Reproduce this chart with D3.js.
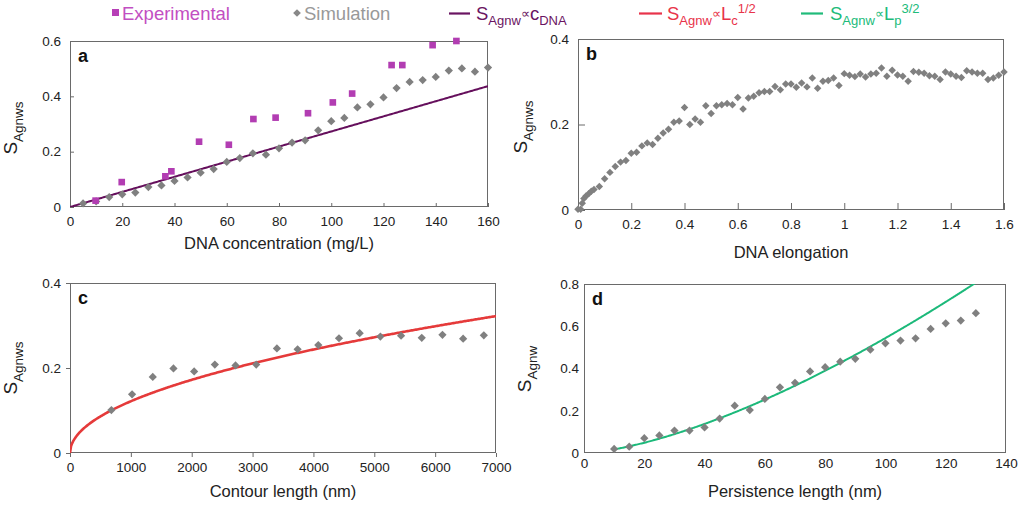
<!DOCTYPE html>
<html>
<head>
<meta charset="utf-8">
<script src="https://cdn.jsdelivr.net/npm/d3@7"></script>
<style>
  body { margin: 0; background: #fff; }
  svg { display: block; }
  text { font-family: "Liberation Sans", Arial, sans-serif; }
</style>
</head>
<body>
<svg id="chart" width="1022" height="508"></svg>
<script>
// ---- Panel a: silver nanowire number vs DNA concentration ----
const expConc = [9.8, 19.8, 36.5, 38.8, 49.4, 60.8, 70.2, 78.7, 91.1, 100.6, 108, 123.1, 127.2, 138.8, 147.9];
const expS    = [0.023, 0.090, 0.111, 0.129, 0.236, 0.225, 0.318, 0.323, 0.339, 0.378, 0.410, 0.513, 0.513, 0.585, 0.600];
const simConc = [5, 10, 15, 20, 25, 30, 35, 40, 45, 50, 55, 60, 65, 70, 75, 80, 85, 90, 95, 100,
                 105, 110, 115, 120, 125, 130, 135, 140, 145, 150, 155, 160];
const simConcS = [0.013, 0.020, 0.036, 0.046, 0.052, 0.072, 0.078, 0.094, 0.107, 0.124, 0.137, 0.163,
                  0.177, 0.194, 0.189, 0.212, 0.233, 0.241, 0.277, 0.310, 0.322, 0.360, 0.371, 0.396,
                  0.430, 0.452, 0.459, 0.470, 0.493, 0.501, 0.489, 0.504];
const fitConcCoef = 0.00273;          // S = k * c_DNA

// ---- Panel b: vs DNA elongation ----
const elong = [0, 0.01, 0.016, 0.022, 0.03, 0.04, 0.05, 0.06, 0.08, 0.10, 0.12, 0.14, 0.16, 0.18, 0.20,
               0.22, 0.24, 0.26, 0.28, 0.30, 0.32, 0.34, 0.36, 0.38, 0.40, 0.42, 0.44, 0.46, 0.48, 0.50,
               0.52, 0.54, 0.56, 0.58, 0.60, 0.62, 0.64, 0.66, 0.68, 0.70, 0.72, 0.74, 0.76, 0.78, 0.80,
               0.82, 0.84, 0.86, 0.88, 0.90, 0.92, 0.94, 0.96, 0.98, 1.00, 1.02, 1.04, 1.06, 1.08, 1.10,
               1.12, 1.14, 1.16, 1.18, 1.20, 1.22, 1.24, 1.26, 1.28, 1.30, 1.32, 1.34, 1.36, 1.38, 1.40,
               1.42, 1.44, 1.46, 1.48, 1.50, 1.52, 1.54, 1.56, 1.58, 1.60];
const elongS = [0.002, 0.002, 0.016, 0.027, 0.033, 0.038, 0.044, 0.048, 0.055, 0.073, 0.088, 0.102, 0.112, 0.116, 0.133,
                0.135, 0.150, 0.157, 0.153, 0.168, 0.180, 0.189, 0.205, 0.208, 0.240, 0.200, 0.213, 0.205, 0.244, 0.226,
                0.244, 0.246, 0.249, 0.246, 0.263, 0.236, 0.262, 0.266, 0.274, 0.277, 0.277, 0.289, 0.281, 0.295, 0.295,
                0.287, 0.297, 0.288, 0.309, 0.285, 0.301, 0.303, 0.309, 0.291, 0.319, 0.315, 0.312, 0.318, 0.311, 0.318,
                0.320, 0.332, 0.313, 0.327, 0.316, 0.313, 0.301, 0.324, 0.322, 0.320, 0.314, 0.313, 0.305, 0.323, 0.318,
                0.313, 0.310, 0.326, 0.323, 0.320, 0.320, 0.305, 0.309, 0.315, 0.323];

// ---- Panel c: vs contour length ----
const contour = [680, 1020, 1360, 1700, 2040, 2380, 2720, 3060, 3400, 3740, 4080, 4420, 4760,
                 5100, 5440, 5780, 6120, 6460, 6800];
const contourS = [0.101, 0.138, 0.179, 0.199, 0.192, 0.208, 0.206, 0.208, 0.246, 0.244, 0.254, 0.270, 0.282,
                  0.274, 0.276, 0.271, 0.278, 0.269, 0.277];
const fitContourCoef = 0.00385;       // S = k * Lc^(1/2)

// ---- Panel d: vs persistence length ----
const persist = [10, 15, 20, 25, 30, 35, 40, 45, 50, 55, 60, 65, 70, 75, 80, 85, 90, 95, 100,
                 105, 110, 115, 120, 125, 130];
const persistS = [0.019, 0.030, 0.070, 0.083, 0.106, 0.106, 0.121, 0.163, 0.224, 0.203, 0.256, 0.311, 0.332,
                  0.386, 0.406, 0.432, 0.446, 0.489, 0.519, 0.532, 0.543, 0.587, 0.614, 0.627, 0.662];
const fitPersistCoef = 0.000544;      // S = k * Lp^(3/2)

// tick values
const ticksA_x = [0, 20, 40, 60, 80, 100, 120, 140, 160];
const ticksA_y = [0, 0.2, 0.4, 0.6];
const ticksB_x = [0, 0.2, 0.4, 0.6, 0.8, 1, 1.2, 1.4, 1.6];
const ticksB_y = [0, 0.2, 0.4];
const ticksC_x = [0, 1000, 2000, 3000, 4000, 5000, 6000, 7000];
const ticksC_y = [0, 0.2, 0.4];
const ticksD_x = [0, 20, 40, 60, 80, 100, 120, 140];
const ticksD_y = [0, 0.2, 0.4, 0.6, 0.8];

const COL = {
  exp: "#b23db2",
  sim: "#808080",
  lineA: "#650f5c",
  lineC: "#e53a3a",
  lineD: "#1cb97a",
  frame: "#6a6a6a",
  text: "#222"
};

const svg = d3.select("#chart");
const fmt = d3.format("~g");
const diamond = d3.symbol().type(d3.symbolSquare);

function drawPanel(cfg, idx) {
  const x = d3.scaleLinear().domain(cfg.xDomain).range([cfg.left, cfg.right]);
  const y = d3.scaleLinear().domain(cfg.yDomain).range([cfg.bottom, cfg.top]);
  const g = svg.append("g");

  const clipId = "clip" + idx;
  g.append("clipPath").attr("id", clipId).append("rect")
    .attr("x", cfg.left).attr("y", cfg.top)
    .attr("width", cfg.right - cfg.left).attr("height", cfg.bottom - cfg.top);

  // axes with tick labels
  const xAxis = d3.axisBottom(x).tickValues(cfg.xTicks).tickFormat(fmt)
    .tickSizeInner(cfg.tickIn ? -cfg.tickLen : cfg.tickLen).tickSizeOuter(0).tickPadding(cfg.tickIn ? 9 : 5);
  const yAxis = d3.axisLeft(y).tickValues(cfg.yTicks).tickFormat(fmt)
    .tickSizeInner(cfg.tickIn ? -cfg.tickLen : cfg.tickLen).tickSizeOuter(0).tickPadding(cfg.tickIn ? 9 : 5);

  const gx = g.append("g").attr("transform", `translate(0,${cfg.bottom})`).call(xAxis);
  const gy = g.append("g").attr("transform", `translate(${cfg.left},0)`).call(yAxis);
  [gx, gy].forEach(a => {
    a.select(".domain").remove();
    a.selectAll("line").attr("stroke", COL.frame);
    a.selectAll("text").attr("fill", COL.text).style("font-size", "13.5px")
      .style("font-family", '"Liberation Sans", Arial, sans-serif');
  });
  if (cfg.tickLen === 0) { gx.selectAll("line").remove(); gy.selectAll("line").remove(); }

  // frame
  g.append("rect")
    .attr("x", cfg.left + 0.5).attr("y", cfg.top + 0.5)
    .attr("width", cfg.right - cfg.left - 1).attr("height", cfg.bottom - cfg.top - 1)
    .attr("fill", "none").attr("stroke", COL.frame).attr("stroke-width", 1);

  const plot = g.append("g");

  // fitted power law (clipped to the plot box)
  if (cfg.fit) {
    const xs = d3.range(0, 401).map(i => cfg.fit.from + (cfg.fit.to - cfg.fit.from) * i / 400);
    const line = d3.line().x(d => x(d)).y(d => y(cfg.fit.k * Math.pow(d, cfg.fit.p)));
    plot.append("path").datum(xs).attr("d", line)
      .attr("clip-path", `url(#${clipId})`)
      .attr("fill", "none").attr("stroke", cfg.fit.color).attr("stroke-width", cfg.fit.width);
  }

  // simulation diamonds
  plot.selectAll(".sim").data(d3.range(cfg.sx.length)).enter().append("path")
    .attr("d", diamond.size(cfg.dSize)())
    .attr("transform", i => `translate(${x(cfg.sx[i])},${y(cfg.sy[i])}) rotate(45)`)
    .attr("fill", COL.sim);

  // experimental squares
  if (cfg.ex) {
    plot.selectAll(".exp").data(d3.range(cfg.ex.length)).enter().append("path")
      .attr("d", d3.symbol().type(d3.symbolSquare).size(44)())
      .attr("transform", i => `translate(${x(cfg.ex[i])},${y(cfg.ey[i])})`)
      .attr("fill", COL.exp);
  }

  // panel letter
  g.append("text").attr("x", cfg.left + 8).attr("y", cfg.top + 21)
    .attr("font-weight", "bold").attr("font-size", 18).attr("fill", "#111").text(cfg.letter);

  // x label
  g.append("text").attr("x", (cfg.left + cfg.right) / 2).attr("y", cfg.xLabelY)
    .attr("text-anchor", "middle").attr("font-size", 16.5).attr("fill", COL.text).text(cfg.xLabel);

  // y label  S with subscript
  const yl = g.append("text")
    .attr("transform", `translate(${cfg.yLabelX},${cfg.yLabelCY}) rotate(-90)`)
    .attr("text-anchor", "middle").attr("font-size", 19).attr("fill", COL.text);
  yl.append("tspan").text("S");
  yl.append("tspan").attr("font-size", 13.5).attr("dy", 6).text(cfg.ySub);
}

drawPanel({
  letter: "a", left: 70, right: 488, top: 41, bottom: 207,
  xDomain: [0, 160], yDomain: [0, 0.6], xTicks: ticksA_x, yTicks: ticksA_y,
  tickIn: true, tickLen: 4,
  sx: simConc, sy: simConcS, ex: expConc, ey: expS, dSize: 34,
  fit: { from: 0, to: 160, k: fitConcCoef, p: 1, color: COL.lineA, width: 2 },
  xLabel: "DNA concentration (mg/L)", xLabelY: 249, yLabelX: 17, yLabelCY: 128, ySub: "Agnws"
}, 0);

drawPanel({
  letter: "b", left: 578, right: 1004, top: 39, bottom: 210,
  xDomain: [0, 1.6], yDomain: [0, 0.4], xTicks: ticksB_x, yTicks: ticksB_y,
  tickIn: true, tickLen: 7,
  sx: elong, sy: elongS, dSize: 28,
  xLabel: "DNA elongation", xLabelY: 258, yLabelX: 527, yLabelCY: 127, ySub: "Agnws"
}, 1);

drawPanel({
  letter: "c", left: 70, right: 496, top: 283, bottom: 453,
  xDomain: [0, 7000], yDomain: [0, 0.4], xTicks: ticksC_x, yTicks: ticksC_y,
  tickIn: false, tickLen: 4,
  sx: contour, sy: contourS, dSize: 34,
  fit: { from: 0, to: 7000, k: fitContourCoef, p: 0.5, color: COL.lineC, width: 2.6 },
  xLabel: "Contour length (nm)", xLabelY: 497, yLabelX: 17, yLabelCY: 368, ySub: "Agnws"
}, 2);

drawPanel({
  letter: "d", left: 584, right: 1006, top: 284, bottom: 453,
  xDomain: [0, 140], yDomain: [0, 0.8], xTicks: ticksD_x, yTicks: ticksD_y,
  tickIn: false, tickLen: 0,
  sx: persist, sy: persistS, dSize: 34,
  fit: { from: 10, to: 140, k: fitPersistCoef, p: 1.5, color: COL.lineD, width: 2 },
  xLabel: "Persistence length (nm)", xLabelY: 497, yLabelX: 531, yLabelCY: 369, ySub: "Agnw"
}, 3);

// ---- legend ----
const leg = svg.append("g").attr("font-size", 18.5);
const legY = 20;

leg.append("rect").attr("x", 112).attr("y", 9).attr("width", 7).attr("height", 7).attr("fill", "#b73fb7");
leg.append("text").attr("x", 122).attr("y", legY).attr("fill", "#c24ec2").text("Experimental");

leg.append("path").attr("d", d3.symbol().type(d3.symbolSquare).size(30)())
  .attr("transform", "translate(297,13) rotate(45)").attr("fill", "#888");
leg.append("text").attr("x", 304).attr("y", legY).attr("fill", "#999").text("Simulation");

// formula pieces: base text, subscripts, superscripts and a small raised "∝"
function legendFormula(x0, x1, tx, color, parts) {
  leg.append("line").attr("x1", x0).attr("x2", x1).attr("y1", 13.5).attr("y2", 13.5)
    .attr("stroke", color).attr("stroke-width", 2.2);
  const t = leg.append("text").attr("x", tx).attr("y", legY).attr("fill", color);
  let shift = 0;
  parts.forEach(p => {
    const target = p.pos === "sub" ? 5 : p.pos === "sup" ? -7 : p.pos === "prop" ? -2 : 0;
    const ts = t.append("tspan").attr("dy", target - shift).text(p.s);
    if (p.pos !== "base") ts.attr("font-size", 13);
    shift = target;
  });
}

legendFormula(449, 470, 476, "#6a1462", [
  { s: "S", pos: "base" }, { s: "Agnw", pos: "sub" }, { s: "\u221D", pos: "prop" }, { s: "c", pos: "base" }, { s: "DNA", pos: "sub" }
]);
legendFormula(639, 662, 667, "#e8334a", [
  { s: "S", pos: "base" }, { s: "Agnw", pos: "sub" }, { s: "\u221D", pos: "prop" }, { s: "L", pos: "base" }, { s: "c", pos: "sub" }, { s: "1/2", pos: "sup" }
]);
legendFormula(801, 823, 830, "#20bb7a", [
  { s: "S", pos: "base" }, { s: "Agnw", pos: "sub" }, { s: "\u221D", pos: "prop" }, { s: "L", pos: "base" }, { s: "p", pos: "sub" }, { s: "3/2", pos: "sup" }
]);
</script>
</body>
</html>
